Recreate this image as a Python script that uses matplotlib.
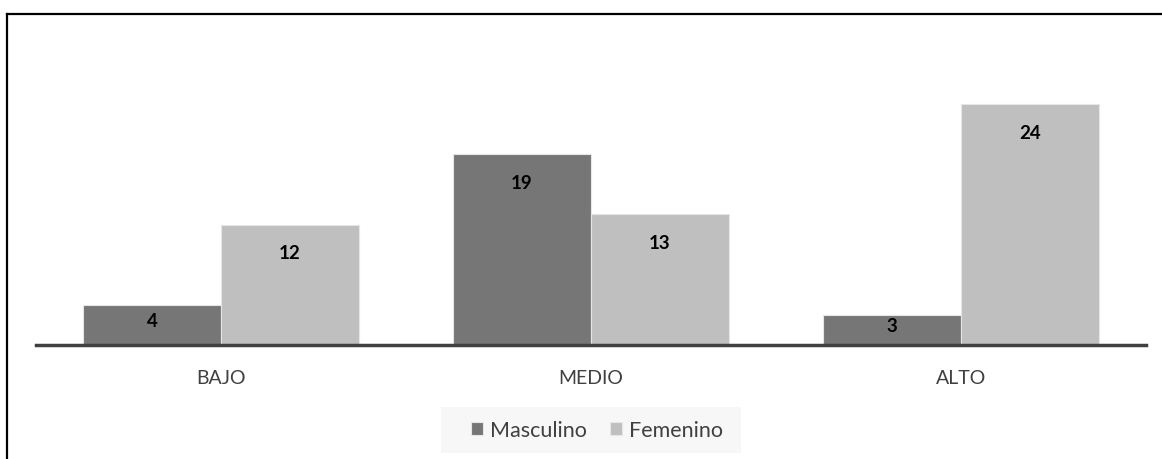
import numpy as np
import matplotlib.pyplot as plt
from matplotlib.lines import Line2D
from matplotlib.patches import Rectangle

plt.rcParams['font.family'] = ['Lato', 'DejaVu Sans']

categories = ["BAJO", "MEDIO", "ALTO"]
masculino = [4, 19, 3]
femenino = [12, 13, 24]

W, H = 1162, 460
fig = plt.figure(figsize=(W / 100, H / 100), dpi=100)

# plot area in pixel coords: x 36..1146, baseline y=346, 10.04 px per unit
top_val = 26
px_per = 10.04
ax_top = 346 - top_val * px_per
ax = fig.add_axes([36 / W, 1 - 346 / H, 1110 / W, (346 - ax_top) / H])

x = np.arange(len(categories))
w = 0.373
b1 = ax.bar(x - w / 2, masculino, w, color="#767676", edgecolor="#e6e6e6", linewidth=0.8)
b2 = ax.bar(x + w / 2, femenino, w, color="#bfbfbf", edgecolor="#e6e6e6", linewidth=0.8)

# value labels at the inside end, pulled to middle for short bars
for bars in (b1, b2):
    for r in bars:
        h = r.get_height()
        y = max(h - 2.8, h / 2 + 0.4)
        ax.text(r.get_x() + r.get_width() / 2, y, str(int(h)),
                ha="center", va="center", fontsize=13.5, fontweight="bold", color="black")

ax.set_xlim(-0.5, 2.5)
ax.set_ylim(0, top_val)
ax.set_yticks([])
ax.set_xticks(x)
ax.set_xticklabels(categories, fontsize=14, color="#404040")
ax.tick_params(axis="x", length=0, pad=17)
for s in ["top", "right", "left"]:
    ax.spines[s].set_visible(False)
ax.spines["bottom"].set_color("#404040")
ax.spines["bottom"].set_linewidth(2.5)

# legend box
fig.patches.append(Rectangle((441 / W, 1 - 454 / H), 300 / W, 46 / H,
                             transform=fig.transFigure, facecolor="#f7f7f7",
                             edgecolor="none", zorder=0))
leg = fig.legend([b1, b2], ["Masculino", "Femenino"], loc="center",
                 bbox_to_anchor=(597 / W, 1 - 431 / H), ncol=2, frameon=False,
                 fontsize=15.5, handlelength=0.55, handleheight=0.55,
                 columnspacing=1.1, handletextpad=0.3)
for t in leg.get_texts():
    t.set_color("#404040")

# outer border (top and left)
fig.add_artist(Line2D([7 / W, 1], [1 - 15 / H, 1 - 15 / H], color="black", linewidth=1.6,
                      transform=fig.transFigure))
fig.add_artist(Line2D([7 / W, 7 / W], [0, 1 - 15 / H], color="black", linewidth=1.6,
                      transform=fig.transFigure))

plt.savefig("out.png", dpi=100)
